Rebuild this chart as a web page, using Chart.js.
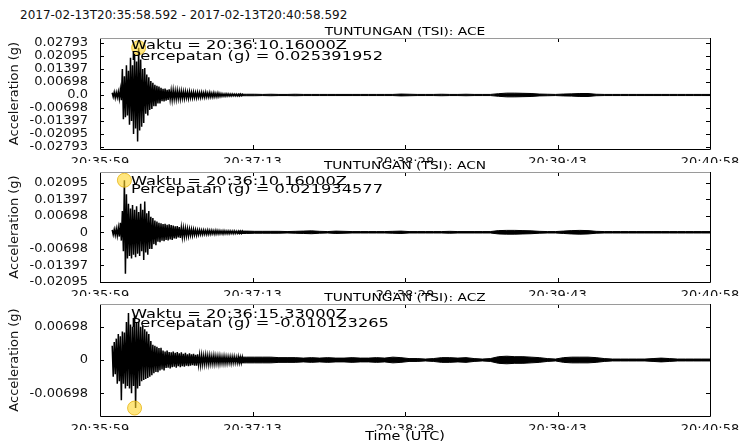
<!DOCTYPE html>
<html>
<head>
<meta charset="utf-8">
<script src="https://cdn.jsdelivr.net/npm/chart.js@4.4.0/dist/chart.umd.min.js"></script>
<style>
html,body{margin:0;padding:0;background:#fff;}
body{width:750px;height:445px;position:relative;overflow:hidden;font-family:"DejaVu Sans",sans-serif;}
#hdr{position:absolute;left:20px;top:8px;font-size:12px;line-height:14px;color:#111;white-space:pre;}
canvas{position:absolute;left:0;}
</style>
</head>
<body>
<div id="hdr">2017-02-13T20:35:58.592 - 2017-02-13T20:40:58.592</div>
<canvas id="c0"></canvas>
<canvas id="c1"></canvas>
<canvas id="c2"></canvas>
<script>
// ---------------- DATA ----------------
const channelTitles = ['TUNTUNGAN (TSI): ACE', 'TUNTUNGAN (TSI): ACN', 'TUNTUNGAN (TSI): ACZ'];
const yAxisTitle = 'Acceleration (g)';
const xAxisTitle = 'Time (UTC)';

// x axis: seconds after 20:35:58.592
const xTickTimes = [0, 75, 150, 225, 300];
const xTickLabels = ['20:35:59', '20:37:13', '20:38:28', '20:39:43', '20:40:58'];

// head: one sample (max / min) per second starting at headStart
const headStart = 6;
// tail: envelope amplitude every tailStep seconds starting at tailStart
const tailStart = 68;
const tailStep = 4;

const aceHi = [0.0012,0.0015,0.0014,0.0018,0.0030,
  0.0140,0.0100,0.0160,0.0130,0.0200,
  0.0160,0.0220,0.0180,0.0254,0.0190,
  0.0140,0.0145,0.0110,0.0095,0.0075,
  0.0065,0.0055,0.0050,0.0045,0.0038,
  0.0033,0.0035,0.0028,0.0030,0.0024,
  0.0026,0.0022,0.0023,0.0020,0.0021,
  0.0018,0.0019,0.0016,0.0018,0.0015,
  0.0016,0.0014,0.0015,0.0013,0.0014,
  0.0012,0.0015,0.0011,0.0013,0.0010,
  0.0012,0.0009,0.0011,0.0008,0.0007,
  0.0006,0.0007,0.0006,0.0005,0.0006,
  0.0005,0.0005,0.0004,0.0005,0.0004];
const aceLo = [-0.0010,-0.0016,-0.0013,-0.0020,-0.0028,
  -0.0130,-0.0120,-0.0110,-0.0160,-0.0140,
  -0.0210,-0.0180,-0.0250,-0.0190,-0.0170,
  -0.0150,-0.0100,-0.0110,-0.0080,-0.0075,
  -0.0060,-0.0060,-0.0045,-0.0046,-0.0033,
  -0.0035,-0.0030,-0.0027,-0.0024,-0.0026,
  -0.0022,-0.0023,-0.0020,-0.0021,-0.0018,
  -0.0019,-0.0016,-0.0018,-0.0015,-0.0016,
  -0.0014,-0.0015,-0.0013,-0.0014,-0.0012,
  -0.0013,-0.0011,-0.0012,-0.0011,-0.0011,
  -0.0010,-0.0010,-0.0009,-0.0008,-0.0007,
  -0.0007,-0.0006,-0.0006,-0.0006,-0.0005,
  -0.0005,-0.0005,-0.0005,-0.0004,-0.0004];
const aceTail = [0.0004,
  0.0004,0.0004,0.0003,0.0004,0.0003,0.0003,0.0004,0.0003,0.0003,0.0003,
  0.0003,0.0003,0.0003,0.0003,0.0003,0.0003,0.0003,0.0003,0.0003,0.0005,
  0.0004,0.0003,0.0003,0.0003,0.0004,0.0003,0.0003,0.0004,0.0003,0.0003,
  0.0003,0.0007,0.0010,0.0010,0.0009,0.0008,0.0005,0.0004,0.0003,0.0005,
  0.0006,0.0008,0.0008,0.0004,0.0003,0.0003,0.0003,0.0003,0.0003,0.0003,
  0.0003,0.0003,0.0003,0.0003,0.0003,0.0003,0.0003,0.0003];

const acnHi = [0.0010,0.0012,0.0015,0.0020,0.0040,
  0.0090,0.0219,0.0160,0.0120,0.0100,
  0.0115,0.0095,0.0110,0.0085,0.0120,
  0.0095,0.0130,0.0080,0.0090,0.0065,
  0.0060,0.0050,0.0045,0.0040,0.0038,
  0.0035,0.0036,0.0032,0.0034,0.0030,
  0.0028,0.0025,0.0026,0.0022,0.0020,
  0.0018,0.0017,0.0015,0.0014,0.0013,
  0.0012,0.0011,0.0010,0.0010,0.0009,
  0.0009,0.0008,0.0009,0.0008,0.0008,
  0.0007,0.0008,0.0007,0.0007,0.0006,
  0.0007,0.0006,0.0006,0.0006,0.0005,
  0.0006,0.0005,0.0005,0.0005,0.0005];
const acnLo = [-0.0010,-0.0012,-0.0014,-0.0018,-0.0035,
  -0.0080,-0.0175,-0.0110,-0.0100,-0.0110,
  -0.0095,-0.0105,-0.0090,-0.0100,-0.0080,
  -0.0117,-0.0085,-0.0095,-0.0070,-0.0070,
  -0.0050,-0.0055,-0.0040,-0.0042,-0.0035,
  -0.0038,-0.0032,-0.0034,-0.0030,-0.0032,
  -0.0026,-0.0027,-0.0022,-0.0024,-0.0020,
  -0.0019,-0.0016,-0.0016,-0.0013,-0.0014,
  -0.0011,-0.0012,-0.0010,-0.0009,-0.0009,
  -0.0008,-0.0009,-0.0008,-0.0008,-0.0007,
  -0.0008,-0.0007,-0.0007,-0.0006,-0.0007,
  -0.0006,-0.0006,-0.0006,-0.0005,-0.0006,
  -0.0005,-0.0005,-0.0005,-0.0005,-0.0005];
const acnTail = [0.0005,
  0.0005,0.0004,0.0004,0.0004,0.0004,0.0003,0.0004,0.0005,0.0006,0.0004,
  0.0003,0.0005,0.0004,0.0003,0.0003,0.0003,0.0003,0.0003,0.0004,0.0005,
  0.0003,0.0003,0.0003,0.0003,0.0003,0.0004,0.0003,0.0003,0.0003,0.0003,
  0.0003,0.0007,0.0008,0.0008,0.0007,0.0006,0.0004,0.0003,0.0003,0.0005,
  0.0007,0.0008,0.0007,0.0004,0.0003,0.0003,0.0003,0.0003,0.0003,0.0003,
  0.0003,0.0003,0.0003,0.0003,0.0003,0.0003,0.0003,0.0003];

const aczHi = [0.0030,0.0038,0.0045,0.0055,0.0050,
  0.0060,0.0058,0.0080,0.0099,0.0075,
  0.0070,0.0095,0.0078,0.0080,0.0070,
  0.0072,0.0065,0.0060,0.0055,0.0040,
  0.0032,0.0030,0.0028,0.0025,0.0026,
  0.0020,0.0018,0.0020,0.0017,0.0016,
  0.0018,0.0015,0.0017,0.0014,0.0016,
  0.0013,0.0015,0.0012,0.0014,0.0012,
  0.0013,0.0011,0.0012,0.0010,0.0010,
  0.0009,0.0010,0.0009,0.0009,0.0008,
  0.0009,0.0008,0.0008,0.0008,0.0007,
  0.0008,0.0007,0.0007,0.0007,0.0007,
  0.0007,0.0006,0.0007,0.0006,0.0006];
const aczLo = [-0.0035,-0.0030,-0.0050,-0.0045,-0.0085,
  -0.0050,-0.0060,-0.0055,-0.0060,-0.0070,
  -0.0055,-0.0101,-0.0060,-0.0055,-0.0045,
  -0.0042,-0.0040,-0.0038,-0.0035,-0.0032,
  -0.0028,-0.0025,-0.0026,-0.0022,-0.0020,
  -0.0022,-0.0017,-0.0016,-0.0018,-0.0015,
  -0.0014,-0.0016,-0.0013,-0.0015,-0.0013,
  -0.0014,-0.0012,-0.0013,-0.0012,-0.0011,
  -0.0012,-0.0012,-0.0010,-0.0011,-0.0009,
  -0.0009,-0.0008,-0.0009,-0.0008,-0.0008,
  -0.0008,-0.0007,-0.0008,-0.0007,-0.0007,
  -0.0007,-0.0007,-0.0006,-0.0007,-0.0006,
  -0.0006,-0.0006,-0.0006,-0.0006,-0.0006];
const aczTail = [0.0006,
  0.0006,0.0006,0.0006,0.0006,0.0005,0.0005,0.0005,0.0004,0.0005,0.0004,
  0.0005,0.0004,0.0004,0.0005,0.0004,0.0004,0.0005,0.0004,0.0006,0.0005,
  0.0003,0.0003,0.0002,0.0003,0.0005,0.0005,0.0004,0.0005,0.0003,0.0002,
  0.0003,0.0007,0.0008,0.0007,0.0007,0.0006,0.0005,0.0003,0.0002,0.0005,
  0.0006,0.0006,0.0006,0.0005,0.0003,0.0002,0.0002,0.0002,0.0002,0.0002,
  0.0003,0.0004,0.0003,0.0002,0.0002,0.0002,0.0002,0.0002];

// peaks
const peakTimes = [19, 12, 17];
const peakValues = [0.025391952, 0.021934577, -0.010123265];
const peakClock = ['20:36:10.16000Z', '20:36:10.16000Z', '20:36:15.33000Z'];
const peakAccel = ['0.025391952', '0.021934577', '-0.010123265'];

// y axes
const aceTicks = [0.02793, 0.02095, 0.01397, 0.00698, 0, -0.00698, -0.01397, -0.02095, -0.02793];
const aceTickLabels = ['0.02793','0.02095','0.01397','0.00698','0.0','-0.00698','-0.01397','-0.02095','-0.02793'];
const acnTicks = [0.02095, 0.01397, 0.00698, 0, -0.00698, -0.01397, -0.02095];
const acnTickLabels = ['0.02095','0.01397','0.00698','0','-0.00698','-0.01397','-0.02095'];
const aczTicks = [0.00698, 0, -0.00698];
const aczTickLabels = ['0.00698','0','-0.00698'];
const yMins = [-0.0290, -0.02095, -0.0118];
const yMaxs = [0.0306, 0.0254, 0.0118];

// ---------------- LAYOUT / STYLE ----------------
const HI = [aceHi, acnHi, aczHi];
const LO = [aceLo, acnLo, aczLo];
const TAIL = [aceTail, acnTail, aczTail];
const TICKS = [aceTicks, acnTicks, aczTicks];
const TICKLAB = [aceTickLabels, acnTickLabels, aczTickLabels];
const geom = [
  {canvasTop: 20,  padTop: 18, plotH: 111, xh: 14, padBottom: 0,  textY: [8, 19]},
  {canvasTop: 154, padTop: 18, plotH: 110, xh: 14, padBottom: 0,  textY: [9.5, 17.5]},
  {canvasTop: 286, padTop: 18, plotH: 112, xh: 14, padBottom: 15, textY: [11, 19.5]}
];
const FONT = '"DejaVu Sans", sans-serif';
Chart.defaults.font.family = FONT;
Chart.defaults.color = '#000';

function stretchedText(ctx, text, x, y, size, sx, align) {
  ctx.save();
  ctx.font = size + 'px ' + FONT;
  ctx.textAlign = align;
  ctx.textBaseline = 'middle';
  ctx.translate(x, y);
  ctx.scale(sx, 1);
  ctx.fillStyle = '#000';
  ctx.fillText(text, 0, 0);
  ctx.restore();
}

const decor = {
  id: 'decor',
  afterDatasetsDraw(chart, args, o) {
    const ctx = chart.ctx;
    const {left, right, top, bottom} = chart.chartArea;
    const xs = chart.scales.x, ys = chart.scales.y;
    ctx.save();
    ctx.strokeStyle = '#000';
    ctx.lineWidth = 1;
    ctx.beginPath();
    xTickTimes.forEach(t => {
      const px = Math.round(xs.getPixelForValue(t)) + 0.5;
      ctx.moveTo(px, top); ctx.lineTo(px, top + 4);
      ctx.moveTo(px, bottom); ctx.lineTo(px, bottom - 4);
    });
    o.ticks.forEach(v => {
      const py = Math.round(ys.getPixelForValue(v)) + 0.5;
      ctx.moveTo(left, py); ctx.lineTo(left + 4, py);
      ctx.moveTo(right, py); ctx.lineTo(right - 4, py);
    });
    ctx.stroke();
    ctx.beginPath();
    ctx.moveTo(Math.round(left) + 0.5, Math.round(top));
    ctx.lineTo(Math.round(left) + 0.5, Math.round(bottom) + 0.5);
    ctx.lineTo(Math.round(right) + 0.5, Math.round(bottom) + 0.5);
    ctx.lineTo(Math.round(right) + 0.5, Math.round(top));
    ctx.stroke();
    ctx.strokeStyle = '#9a9a9a';
    ctx.beginPath();
    ctx.moveTo(left, Math.round(top) + 0.5);
    ctx.lineTo(right, Math.round(top) + 0.5);
    ctx.stroke();
    ctx.restore();
    stretchedText(ctx, o.title, (left + right) / 2, top - 6, 11, 1.25, 'center');
    stretchedText(ctx, 'Waktu = ' + o.clock, left + 31, top + o.textY[0], 13, 1.25, 'left');
    stretchedText(ctx, 'Percepatan (g) = ' + o.accel, left + 31, top + o.textY[1], 13, 1.25, 'left');
    if (o.xTitle) {
      stretchedText(ctx, o.xTitle, (left + right) / 2, bottom + 21, 12, 1.2, 'center');
    }
  }
};

function makeChart(i) {
  const g = geom[i];
  const cv = document.getElementById('c' + i);
  cv.width = 750;
  cv.height = g.padTop + g.plotH + g.xh + g.padBottom;
  cv.style.top = g.canvasTop + 'px';
  cv.style.width = '750px';
  cv.style.height = cv.height + 'px';

  const wave = [];
  HI[i].forEach((v, k) => {
    const t = headStart + k;
    wave.push({x: t, y: v});
    wave.push({x: t + 0.5, y: LO[i][k]});
  });
  const up = TAIL[i].map((a, k) => ({x: tailStart + k * tailStep, y: a}));
  const dn = TAIL[i].map((a, k) => ({x: tailStart + k * tailStep, y: -a}));

  new Chart(cv, {
    type: 'line',
    data: {
      datasets: [
        {data: [{x: peakTimes[i], y: peakValues[i]}], showLine: false, pointRadius: 7,
         pointBackgroundColor: 'rgba(255,214,40,0.6)', pointBorderColor: 'rgba(230,180,20,0.8)',
         pointBorderWidth: 1, order: 0},
        {data: wave, borderColor: '#000', backgroundColor: '#000', borderWidth: 1.5, pointRadius: 0,
         tension: 0, fill: 'origin', order: 1},
        {data: up, borderColor: '#000', borderWidth: 1, pointRadius: 0, tension: 0, fill: false, order: 2},
        {data: dn, borderColor: '#000', backgroundColor: '#000', borderWidth: 1, pointRadius: 0, tension: 0, fill: '-1', order: 3}
      ]
    },
    options: {
      responsive: false,
      animation: false,
      devicePixelRatio: 1,
      events: [],
      layout: {padding: {left: 0, right: 40, top: g.padTop, bottom: g.padBottom}},
      plugins: {
        legend: {display: false},
        tooltip: {enabled: false},
        decor: {ticks: TICKS[i], title: channelTitles[i], clock: peakClock[i], accel: peakAccel[i],
                textY: g.textY, xTitle: i === 2 ? xAxisTitle : null}
      },
      scales: {
        x: {
          type: 'linear', min: 0, max: 300,
          afterBuildTicks: ax => { ax.ticks = xTickTimes.map(v => ({value: v})); },
          ticks: {autoSkip: false, maxRotation: 0, padding: -2, font: {size: 13}, color: '#111',
                  callback: (v, k) => xTickLabels[k]},
          grid: {display: false}, border: {display: false},
          afterFit: ax => { ax.height = g.xh; }
        },
        y: {
          type: 'linear', min: yMins[i], max: yMaxs[i],
          afterBuildTicks: ax => { ax.ticks = TICKS[i].map(v => ({value: v})); },
          ticks: {autoSkip: false, padding: 4, font: {size: 13}, color: '#111',
                  callback: (v, k) => TICKLAB[i][k]},
          grid: {display: false}, border: {display: false},
          title: {display: true, text: yAxisTitle, font: {size: 13}, color: '#111', padding: {top: 7, bottom: 0}},
          afterFit: ax => { ax.width = 100; }
        }
      }
    },
    plugins: [decor]
  });
}
[0, 1, 2].forEach(makeChart);
</script>
</body>
</html>
